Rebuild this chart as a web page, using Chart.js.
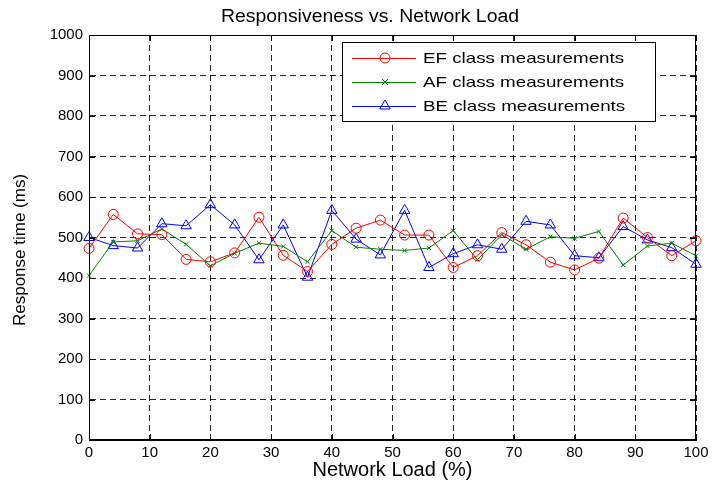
<!DOCTYPE html>
<html>
<head>
<meta charset="utf-8">
<script src="https://cdn.jsdelivr.net/npm/chart.js@4"></script>
<style>
  html, body { margin: 0; padding: 0; background: #fff; }
  #wrap { width: 714px; height: 488px; position: relative; }
</style>
</head>
<body>
<div id="wrap"><canvas id="respChart"></canvas></div>
<script>
// network load values (%)
const loads = [0, 4, 8, 12, 16, 20, 24, 28, 32, 36, 40, 44, 48, 52, 56, 60, 64, 68, 72, 76, 80, 84, 88, 92, 96, 100];

// response times (ms)
const efTimes = [473, 557, 509, 507, 446, 440, 462, 550, 456, 416, 483, 523, 543, 506, 506, 426, 455, 512, 482, 439, 420, 449, 548, 500, 455, 492];
const afTimes = [406, 489, 492, 521, 483, 430, 461, 486, 478, 440, 517, 476, 471, 468, 474, 517, 445, 507, 471, 502, 498, 515, 432, 479, 486, 455];
const beTimes = [500, 480, 474, 534, 529, 581, 531, 445, 531, 402, 567, 496, 457, 567, 426, 460, 482, 471, 540, 531, 455, 450, 527, 494, 475, 434];

const xTicks = [0, 10, 20, 30, 40, 50, 60, 70, 80, 90, 100];
const yTicks = [0, 100, 200, 300, 400, 500, 600, 700, 800, 900, 1000];

const chartTitle = 'Responsiveness vs. Network Load';
const yTitle = 'Response time (ms)';
const seriesNames = ['EF class measurements', 'AF class measurements', 'BE class measurements'];
const seriesColors = ['#ff0000', '#008000', '#0000ff'];
const seriesMarkers = ['circle', 'crossRot', 'triangle'];
const markerSizes = [5, 3, 6];

const ctx = document.getElementById('respChart').getContext('2d');
const FONT = "'Liberation Sans', Arial, sans-serif";

function toPoints(ys) {
  return loads.map((x, i) => ({ x: x, y: ys[i] }));
}

function drawMarker(c, style, x, y, r, color) {
  c.save();
  c.strokeStyle = color;
  c.lineWidth = 1;
  c.beginPath();
  if (style === 'circle') {
    c.arc(x, y, r, 0, Math.PI * 2);
  } else if (style === 'crossRot') {
    c.moveTo(x - r, y - r); c.lineTo(x + r, y + r);
    c.moveTo(x - r, y + r); c.lineTo(x + r, y - r);
  } else {
    const h = r * 1.5;
    const w = r * Math.sqrt(3);
    c.moveTo(x, y - r);
    c.lineTo(x + w / 2, y - r + h);
    c.lineTo(x - w / 2, y - r + h);
    c.closePath();
  }
  c.stroke();
  c.restore();
}

// frame, inward ticks, titles and legend box (matlab style)
const framePlugin = {
  id: 'frame',
  afterDraw(chart) {
    const c = chart.ctx;
    const a = chart.chartArea;
    const xs = chart.scales.x;
    const ys = chart.scales.y;
    c.save();
    c.strokeStyle = '#000';
    c.lineWidth = 1;
    c.setLineDash([]);
    c.strokeRect(a.left + 0.5, a.top + 0.5, a.right - a.left - 1, a.bottom - a.top - 1);
    c.beginPath();
    xTicks.forEach(t => {
      const px = Math.round(xs.getPixelForValue(t)) + 0.5;
      c.moveTo(px, a.bottom); c.lineTo(px, a.bottom - 6);
      c.moveTo(px, a.top); c.lineTo(px, a.top + 6);
    });
    yTicks.forEach(t => {
      const py = Math.round(ys.getPixelForValue(t)) + 0.5;
      c.moveTo(a.left, py); c.lineTo(a.left + 6, py);
      c.moveTo(a.right, py); c.lineTo(a.right - 6, py);
    });
    c.stroke();

    // titles
    c.fillStyle = '#000';
    c.textAlign = 'center';
    c.textBaseline = 'middle';
    c.font = '18px ' + FONT;
    c.save();
    c.translate(370, 17);
    c.scale(1.08, 1);
    c.fillText(chartTitle, 0, 0);
    c.restore();
    c.font = '17px ' + FONT;
    c.save();
    c.translate(20, 250);
    c.rotate(-Math.PI / 2);
    c.fillText(yTitle, 0, 0);
    c.restore();

    // legend
    const lx = 342, ly = 42, lw = 313, lh = 79;
    c.fillStyle = '#fff';
    c.fillRect(lx, ly, lw, lh);
    c.strokeRect(lx + 0.5, ly + 0.5, lw, lh);
    c.font = '15px ' + FONT;
    c.textAlign = 'left';
    const rows = [58, 82, 106];
    seriesNames.forEach((name, i) => {
      const y = rows[i];
      c.strokeStyle = seriesColors[i];
      c.beginPath();
      c.moveTo(352, y + 0.5); c.lineTo(416, y + 0.5);
      c.stroke();
      drawMarker(c, seriesMarkers[i], 385, y, markerSizes[i], seriesColors[i]);
      c.save();
      c.translate(423, y + 1);
      c.scale(1.25, 1);
      c.fillStyle = '#000';
      c.fillText(name, 0, 0);
      c.restore();
    });
    c.restore();
  }
};

const datasets = [efTimes, afTimes, beTimes].map((ys, i) => ({
  label: seriesNames[i],
  data: toPoints(ys),
  borderColor: seriesColors[i],
  backgroundColor: 'rgba(0,0,0,0)',
  borderWidth: 1,
  pointStyle: seriesMarkers[i],
  pointRadius: markerSizes[i],
  pointBorderColor: seriesColors[i],
  pointBorderWidth: 1,
  pointBackgroundColor: 'rgba(0,0,0,0)',
  tension: 0,
  clip: false
}));

const chart = new Chart(ctx, {
  type: 'line',
  data: { datasets: datasets },
  options: {
    responsive: true,
    maintainAspectRatio: false,
    animation: false,
    layout: { padding: { left: 0, right: 18, top: 35, bottom: 0 } },
    plugins: {
      legend: { display: false },
      tooltip: { enabled: false },
      title: { display: false }
    },
    scales: {
      x: {
        type: 'linear',
        min: 0,
        max: 100,
        afterBuildTicks: axis => { axis.ticks = xTicks.map(v => ({ value: v })); },
        afterFit: axis => { axis.height = 48; },
        ticks: {
          color: '#000',
          font: { family: FONT, size: 15 },
          padding: 4,
          maxRotation: 0,
          callback: v => String(v)
        },
        grid: { color: 'rgba(0,0,0,0.85)', drawTicks: false, lineWidth: 1 },
        border: { display: true, color: '#000', dash: [6, 4] },
        title: {
          display: true,
          text: 'Network Load (%)',
          color: '#000',
          font: { family: FONT, size: 20 },
          padding: { top: 0, bottom: 6 }
        }
      },
      y: {
        min: 0,
        max: 1000,
        afterBuildTicks: axis => { axis.ticks = yTicks.map(v => ({ value: v })); },
        afterFit: axis => { axis.width = 89; },
        ticks: {
          color: '#000',
          font: { family: FONT, size: 15 },
          padding: 6,
          callback: v => String(v)
        },
        grid: { color: 'rgba(0,0,0,0.85)', drawTicks: false, lineWidth: 1 },
        border: { display: true, color: '#000', dash: [6, 4] },
        title: { display: false }
      }
    }
  },
  plugins: [framePlugin]
});
</script>
</body>
</html>
